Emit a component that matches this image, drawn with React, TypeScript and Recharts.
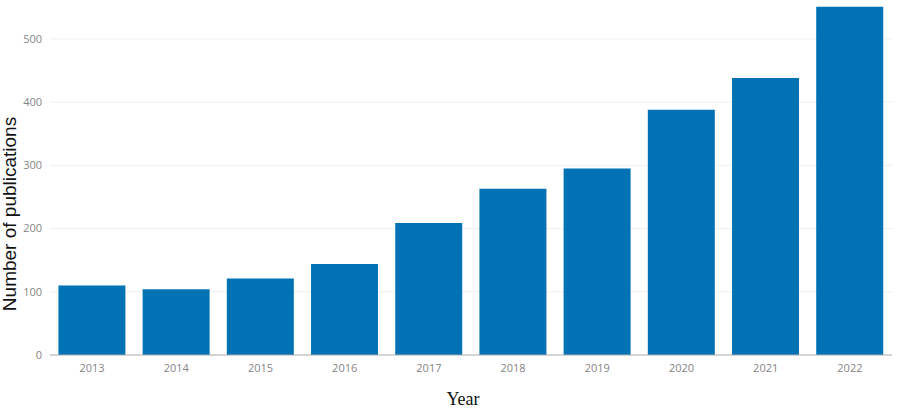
import { BarChart, Bar, XAxis, YAxis, CartesianGrid, Label } from 'recharts'

const years = ['2013', '2014', '2015', '2016', '2017', '2018', '2019', '2020', '2021', '2022']
const publications = [110, 104, 121, 144, 209, 263, 295, 388, 438, 551]
const yTicks = [0, 100, 200, 300, 400, 500]
const gridValues = [100, 200, 300, 400, 500]

const BAR_COLOR = '#0173b5'
const TICK_COLOR = '#858585'

const data = years.map((year, i) => ({ year, count: publications[i] }))

export default function App() {
  return (
    <div style={{ position: 'absolute', left: 0, top: 0, width: 920, height: 410, background: '#fff' }}>
      <BarChart
        width={920}
        height={410}
        data={data}
        margin={{ top: 1, right: 28, bottom: 25, left: 10 }}
        barCategoryGap="10%"
      >
        <CartesianGrid vertical={false} horizontalValues={gridValues} stroke="#efefef" />
        <XAxis
          dataKey="year"
          height={30}
          tickLine={false}
          axisLine={{ stroke: '#aaaaaa' }}
          tick={{ fill: TICK_COLOR, fontSize: 11, fontFamily: 'Open Sans, sans-serif' }}
          tickMargin={3}
        >
          <Label
            content={() => (
              <text x={463} y={405} textAnchor="middle" fontFamily="Liberation Serif, serif" fontSize={18} fill="#111">
                Year
              </text>
            )}
          />
        </XAxis>
        <YAxis
          width={40}
          domain={[0, 560]}
          ticks={yTicks}
          interval={0}
          tickLine={false}
          axisLine={false}
          tick={{ fill: TICK_COLOR, fontSize: 11, fontFamily: 'Open Sans, sans-serif' }}
          tickMargin={2}
        >
          <Label
            content={() => (
              <text
                x={16}
                y={214}
                textAnchor="middle"
                transform="rotate(-90 16 214)"
                fontFamily="Liberation Sans, Arial, sans-serif"
                fontSize={19}
                fill="#111"
              >
                Number of publications
              </text>
            )}
          />
        </YAxis>
        <Bar dataKey="count" fill={BAR_COLOR} isAnimationActive={false} />
      </BarChart>
    </div>
  )
}
